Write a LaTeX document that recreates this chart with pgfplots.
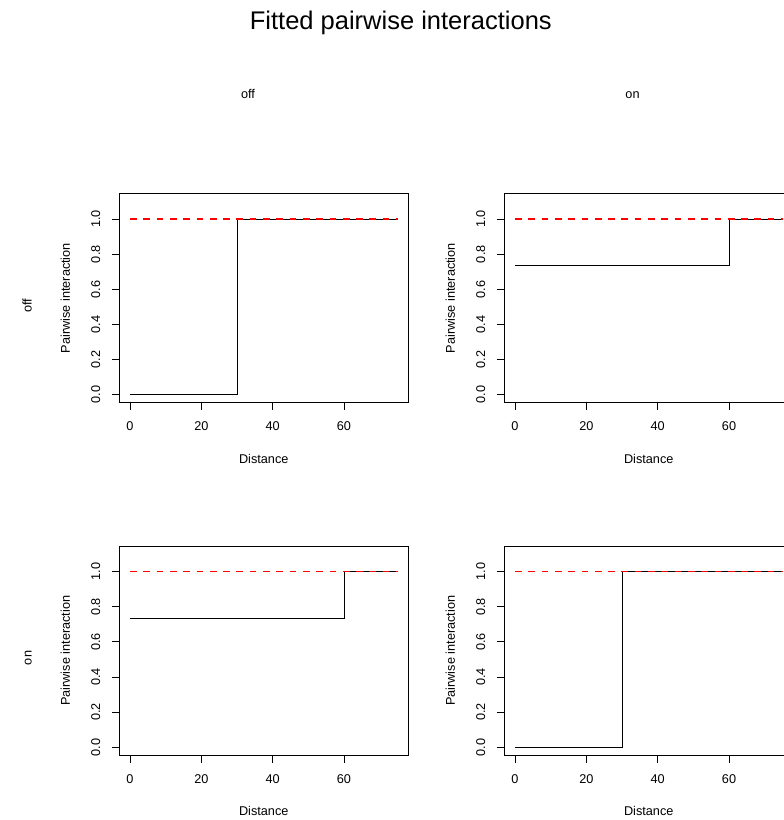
\documentclass[border=0pt]{standalone}
\usepackage{fontspec}
\setmainfont{Liberation Sans}
\usepackage{pgfplots}
\pgfplotsset{compat=1.18}
\pgfplotsset{
  rpanel/.style={
    anchor=south west, scale only axis, width=288.9bp, height=208.6bp,
    xmin=-3, xmax=78, ymin=-0.044, ymax=1.144,
    xtick={0,20,40,60}, ytick={0,0.2,0.4,0.6,0.8,1},
    tick align=outside, tick pos=left,
    major tick length=7.5bp,
    tick style={black, line width=0.9bp},
    axis line style={black, line width=0.9bp},
    font=\fontsize{12.7bp}{15bp}\selectfont,
    /pgf/number format/assume math mode=true,
    yticklabel style={rotate=90, anchor=base, inner sep=0pt,
      /pgf/number format/.cd, fixed, fixed zerofill, precision=1},
    xticklabel style={anchor=base, inner sep=0pt},
    xticklabel shift=20.8bp,
    yticklabel shift=11.8bp,
    xlabel={Distance}, ylabel={Pairwise interaction},
    xlabel style={at={(axis description cs:0.5,-0.2924)}, anchor=base, inner sep=0pt},
    ylabel style={at={(axis description cs:-0.1707,0.5)}, anchor=base, inner sep=0pt},
  },
  ov/.style={
    anchor=south west, scale only axis, width=288.9bp, height=208.6bp,
    xmin=-3, xmax=78, ymin=-0.044, ymax=1.144, hide axis,
  },
}
\begin{document}
\begin{tikzpicture}
\useasboundingbox (0bp,0bp) rectangle (784bp,820bp);

% frames, ticks and labels
\begin{axis}[rpanel, at={(119.3bp,417.6bp)}]
\end{axis}
\begin{axis}[rpanel, at={(504.3bp,417.6bp)}]
\end{axis}
\begin{axis}[rpanel, at={(119.3bp,65.0bp)}]
\end{axis}
\begin{axis}[rpanel, at={(504.3bp,65.0bp)}]
\end{axis}

% data layers
% top-left: off/off
\begin{axis}[ov, at={(119.3bp,417.6bp)}]
\addplot[black, line width=1bp] coordinates {(0,0) (30,0) (30,1) (75,1)};
\addplot[red, line width=1.6bp, dash pattern=on 6.7bp off 6.6bp] coordinates {(0,1) (75,1)};
\end{axis}

% top-right: off/on
\begin{axis}[ov, at={(504.3bp,417.6bp)}]
\addplot[black, line width=1bp] coordinates {(0,0.733) (60,0.733) (60,1) (75,1)};
\addplot[red, line width=1.6bp, dash pattern=on 6.7bp off 6.6bp] coordinates {(0,1) (75,1)};
\end{axis}

% bottom-left: on/off
\begin{axis}[ov, at={(119.3bp,65.0bp)}]
\addplot[black, line width=1bp] coordinates {(0,0.733) (60,0.733) (60,1) (75,1)};
\addplot[red, line width=1.6bp, dash pattern=on 6.7bp off 6.6bp] coordinates {(0,1) (75,1)};
\end{axis}

% bottom-right: on/on
\begin{axis}[ov, at={(504.3bp,65.0bp)}]
\addplot[black, line width=1bp] coordinates {(0,0) (30,0) (30,1) (75,1)};
\addplot[red, line width=1.6bp, dash pattern=on 6.7bp off 6.6bp] coordinates {(0,1) (75,1)};
\end{axis}

\node[font=\fontsize{25.5bp}{30bp}\selectfont, anchor=base, inner sep=0pt] at (400.8bp,790bp) {Fitted pairwise interactions};
\node[font=\fontsize{12.7bp}{15bp}\selectfont, anchor=base, inner sep=0pt] at (248bp,721bp) {off};
\node[font=\fontsize{12.7bp}{15bp}\selectfont, anchor=base, inner sep=0pt] at (632.5bp,721bp) {on};
\node[font=\fontsize{12.7bp}{15bp}\selectfont, rotate=90, anchor=base, inner sep=0pt] at (31.7bp,514.3bp) {off};
\node[font=\fontsize{12.7bp}{15bp}\selectfont, rotate=90, anchor=base, inner sep=0pt] at (31.7bp,162bp) {on};
\end{tikzpicture}
\end{document}
